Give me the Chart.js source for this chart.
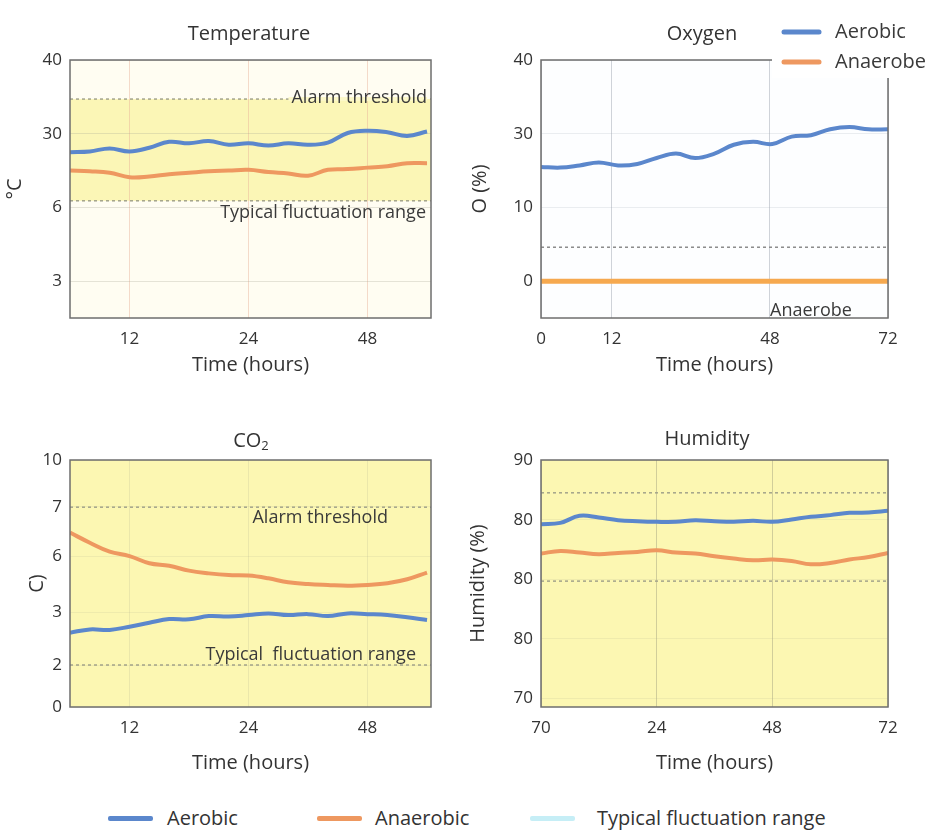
<!DOCTYPE html>
<html>
<head>
<meta charset="utf-8">
<script src="https://cdn.jsdelivr.net/npm/chart.js@4.4.0/dist/chart.umd.min.js"></script>
<style>
  body { margin: 0; background: #fff; font-family: 'Open Sans', sans-serif; color: #333; }
  #wrap { position: relative; width: 935px; height: 837px; overflow: hidden; }
  canvas { position: absolute; }
  .title { position: absolute; transform: translate(-50%, -50%); font-size: 20px; white-space: nowrap; }
  .title sub { font-size: 13px; vertical-align: -3px; }
  #legend { position: absolute; left: 0; top: 805px; width: 935px; height: 26px; font-size: 20px; }
  .item { position: absolute; top: 0; line-height: 26px; }
  .swatch { position: absolute; top: 11px; height: 5px; border-radius: 2px; }
</style>
</head>
<body>
<div id="wrap">
  <canvas id="temp" width="460" height="385" style="left:0;top:0"></canvas>
  <canvas id="oxy" width="470" height="385" style="left:465px;top:0"></canvas>
  <canvas id="co2" width="460" height="365" style="left:0;top:420px"></canvas>
  <canvas id="hum" width="470" height="365" style="left:465px;top:420px"></canvas>

  <div class="title" style="left:249px;top:32px">Temperature</div>
  <div class="title" style="left:702px;top:32px">Oxygen</div>
  <div class="title" style="left:251px;top:440px">CO<sub>2</sub></div>
  <div class="title" style="left:707px;top:437px">Humidity</div>

  <div id="legend">
    <span class="swatch" style="left:108px;width:45px;background:#5b87cc"></span>
    <span class="item" style="left:167px">Aerobic</span>
    <span class="swatch" style="left:317px;width:45px;background:#ee9860"></span>
    <span class="item" style="left:375px">Anaerobic</span>
    <span class="swatch" style="left:530px;width:45px;background:#c6eef6"></span>
    <span class="item" style="left:597px">Typical fluctuation range</span>
  </div>
</div>
<script>
// Temperature panel (y values in the axis' own position units)
const tempHours = [6, 8, 10, 12, 14, 16, 18, 20, 22, 24, 26, 28, 30, 32, 34, 36, 38, 40, 42];
const tempAerobic = [27.5, 27.6, 28.0, 27.6, 28.1, 28.9, 28.7, 29.0, 28.5, 28.7, 28.4, 28.7, 28.5, 28.8, 30.1, 30.4, 30.2, 29.7, 30.3];
const tempAnaerobe = [25.0, 24.9, 24.7, 24.1, 24.2, 24.5, 24.7, 24.9, 25.0, 25.1, 24.8, 24.6, 24.3, 25.1, 25.2, 25.4, 25.6, 26.0, 26.0];
const tempAlarm = 34.7;
const tempTypical = 20.9;
const tempYTicks = [10, 20, 30, 40];
const tempYLabels = ['3', '6', '30', '40'];
const tempXTicks = [12, 24, 36];
const tempXLabels = ['12', '24', '48'];

// Oxygen panel
const oxyHours = [0, 4, 8, 12, 16, 20, 24, 28, 32, 36, 40, 44, 48, 52, 56, 60, 64, 68, 72];
const oxyAerobic = [15.5, 15.4, 15.7, 16.1, 15.7, 15.9, 16.7, 17.3, 16.7, 17.3, 18.5, 18.9, 18.6, 19.6, 19.8, 20.6, 20.9, 20.6, 20.6];
const oxyAnaerobe = [0, 0, 0, 0, 0, 0, 0, 0, 0, 0, 0, 0, 0, 0, 0, 0, 0, 0, 0];
const oxyLimit = 4.6;
const oxyYTicks = [0, 10, 20, 30];
const oxyYLabels = ['0', '10', '30', '40'];
const oxyXTicks = [0, 14.7, 47.5, 72];
const oxyXLabels = ['0', '12', '48', '72'];

// CO2 panel
const co2Hours = [6, 8, 10, 12, 14, 16, 18, 20, 22, 24, 26, 28, 30, 32, 34, 36, 38, 40, 42];
const co2Aerobic = [3.01, 3.14, 3.12, 3.25, 3.41, 3.56, 3.55, 3.68, 3.66, 3.72, 3.79, 3.72, 3.76, 3.68, 3.79, 3.76, 3.72, 3.63, 3.52];
const co2Anaerobic = [7.06, 6.65, 6.29, 6.11, 5.82, 5.72, 5.52, 5.41, 5.34, 5.32, 5.21, 5.05, 4.98, 4.94, 4.91, 4.94, 5.01, 5.17, 5.44];
const co2Alarm = 8.09;
const co2Typical = 1.7;
const co2YTicks = [0, 1.7, 3.82, 6.09, 8.1, 10];
const co2YLabels = ['0', '2', '3', '6', '7', '10'];

// Humidity panel
const humHours = [0, 4, 8, 12, 16, 20, 24, 28, 32, 36, 40, 44, 48, 52, 56, 60, 64, 68, 72];
const humAerobic = [84.62, 84.73, 85.32, 85.18, 84.96, 84.87, 84.82, 84.82, 84.96, 84.87, 84.82, 84.9, 84.82, 85.02, 85.24, 85.38, 85.57, 85.6, 85.74];
const humAnaerobic = [82.16, 82.38, 82.24, 82.1, 82.21, 82.29, 82.44, 82.24, 82.16, 81.93, 81.74, 81.6, 81.66, 81.54, 81.26, 81.37, 81.66, 81.87, 82.21];
const humAlarm = 87.25;
const humTypical = 79.85;
const humYTicks = [70, 75, 80, 85, 90];
const humYLabels = ['70', '80', '80', '80', '90'];
const humXTicks = [0, 24, 48, 72];
const humXLabels = ['70', '24', '48', '72'];

const BLUE = '#5b87cc';
const ORANGE = '#ee9860';
const TEXT = '#333';

Chart.defaults.font.family = "'Open Sans', sans-serif";
Chart.defaults.color = TEXT;

function series(hours, values, color, width) {
    return {
        data: hours.map((h, i) => ({ x: h, y: values[i] })),
        borderColor: color,
        borderWidth: width || 4,
        pointRadius: 0,
        tension: 0.4,
        fill: false
    };
}

function dashed(xMin, xMax, value, color) {
    return {
        data: [{ x: xMin, y: value }, { x: xMax, y: value }],
        borderColor: color,
        borderWidth: 1.5,
        borderDash: [3, 3],
        pointRadius: 0,
        tension: 0,
        fill: false
    };
}

// backgrounds, frame, notes and the inline legend
function decor(cfg) {
    return {
        id: 'decor',
        beforeDraw(chart) {
            const { ctx, chartArea: a } = chart;
            const y = chart.scales.y;
            ctx.save();
            ctx.fillStyle = cfg.bg;
            ctx.fillRect(a.left, a.top, a.width, a.height);
            if (cfg.band) {
                const y1 = y.getPixelForValue(cfg.band[1]);
                const y0 = y.getPixelForValue(cfg.band[0]);
                ctx.fillStyle = cfg.bandColor;
                ctx.fillRect(a.left, y1, a.width, y0 - y1);
            }
            ctx.restore();
        },
        afterDraw(chart) {
            const { ctx, chartArea: a } = chart;
            const y = chart.scales.y;
            ctx.save();
            ctx.strokeStyle = '#6e6e6e';
            ctx.lineWidth = 1.5;
            ctx.strokeRect(a.left, a.top, a.width, a.height);

            ctx.font = "18px 'Open Sans', sans-serif";
            ctx.textBaseline = 'alphabetic';
            (cfg.notes || []).forEach(n => {
                const py = y.getPixelForValue(n.value) + n.dy;
                const px = a.right - n.right;
                const w = ctx.measureText(n.text).width;
                const left = n.align === 'left' ? px : px - w;
                if (n.mask) {
                    ctx.fillStyle = n.mask;
                    ctx.fillRect(left - 3, y.getPixelForValue(n.value) - 2, w + 3, 4);
                }
                ctx.fillStyle = '#3a3a3a';
                ctx.textAlign = 'left';
                ctx.fillText(n.text, left, py);
            });

            if (cfg.legend) {
                ctx.fillStyle = '#fff';
                ctx.fillRect(a.right - 116, 0, chart.width - a.right + 116, a.top + 18);
                ctx.font = "20px 'Open Sans', sans-serif";
                ctx.textBaseline = 'middle';
                cfg.legend.forEach(item => {
                    ctx.strokeStyle = item.color;
                    ctx.lineWidth = 5;
                    ctx.lineCap = 'round';
                    ctx.beginPath();
                    ctx.moveTo(a.right - 104, item.y);
                    ctx.lineTo(a.right - 69, item.y);
                    ctx.stroke();
                    ctx.fillStyle = '#3a3a3a';
                    ctx.fillText(item.text, a.right - 53, item.y);
                });
            }
            ctx.restore();
        }
    };
}

function makePanel(id, cfg) {
    const tickFont = { size: 17 };
    const titleFont = { size: 20 };
    return new Chart(document.getElementById(id), {
        type: 'line',
        data: { datasets: cfg.datasets },
        options: {
            responsive: false,
            animation: false,
            layout: { padding: { top: cfg.top, right: cfg.right, left: 0, bottom: 0 } },
            plugins: { legend: { display: false }, tooltip: { enabled: false } },
            scales: {
                x: {
                    type: 'linear',
                    min: cfg.xMin,
                    max: cfg.xMax,
                    afterBuildTicks: s => { s.ticks = cfg.xTicks.map(v => ({ value: v })); },
                    afterFit: s => { s.height = cfg.xAxisH; },
                    ticks: {
                        autoSkip: false, maxRotation: 0, padding: 11, color: TEXT, font: tickFont,
                        callback: (v, i) => cfg.xLabels[i]
                    },
                    grid: { color: cfg.xGrid, drawTicks: false },
                    border: { display: false },
                    title: { display: true, text: 'Time (hours)', color: TEXT, font: titleFont, padding: { top: 0, bottom: cfg.xTitlePad } }
                },
                y: {
                    type: 'linear',
                    min: cfg.yMin,
                    max: cfg.yMax,
                    afterBuildTicks: s => { s.ticks = cfg.yTicks.map(v => ({ value: v })); },
                    afterFit: s => { s.width = cfg.yAxisW; },
                    ticks: {
                        padding: 8, color: TEXT, font: tickFont,
                        callback: (v, i) => cfg.yLabels[i]
                    },
                    grid: { color: cfg.yGrid, drawTicks: false },
                    border: { display: false },
                    title: { display: true, text: cfg.yTitle, color: TEXT, font: titleFont, padding: { top: cfg.yTitlePad, bottom: 0 } }
                }
            }
        },
        plugins: [decor(cfg)]
    });
}

makePanel('temp', {
    datasets: [
        dashed(6, 42.4, tempAlarm, '#a3a38a'),
        dashed(6, 42.4, tempTypical, '#a3a38a'),
        series(tempHours, tempAerobic, BLUE),
        series(tempHours, tempAnaerobe, ORANGE)
    ],
    top: 60, right: 29, yAxisW: 70, xAxisH: 67, xTitlePad: 8, yTitlePad: 3,
    xMin: 6, xMax: 42.4, xTicks: tempXTicks, xLabels: tempXLabels,
    yMin: 5, yMax: 40, yTicks: tempYTicks, yLabels: tempYLabels,
    yTitle: '°C',
    xGrid: 'rgba(230,175,150,0.45)', yGrid: 'rgba(170,170,150,0.3)',
    bg: '#fffdf2', band: [tempTypical, tempAlarm], bandColor: '#fbf6b6',
    notes: [
        { text: 'Alarm threshold', value: tempAlarm, dy: 4, right: 4, mask: '#fcf8c8' },
        { text: 'Typical fluctuation range', value: tempTypical, dy: 17, right: 5 }
    ]
});

makePanel('oxy', {
    datasets: [
        dashed(0, 72, oxyLimit, '#8c8c8c'),
        series(oxyHours, oxyAnaerobe, '#f6a94f', 5),
        series(oxyHours, oxyAerobic, BLUE)
    ],
    top: 60, right: 47, yAxisW: 76, xAxisH: 67, xTitlePad: 8, yTitlePad: 3,
    xMin: 0, xMax: 72, xTicks: oxyXTicks, xLabels: oxyXLabels,
    yMin: -5, yMax: 30, yTicks: oxyYTicks, yLabels: oxyYLabels,
    yTitle: 'O (%)',
    xGrid: 'rgba(150,160,170,0.45)', yGrid: 'rgba(160,170,180,0.2)',
    bg: '#fdfeff',
    notes: [
        { text: 'Anaerobe', value: -5, dy: -2, right: 118, align: 'left' }
    ],
    legend: [
        { text: 'Aerobic', color: BLUE, y: 32 },
        { text: 'Anaerobe', color: ORANGE, y: 62 }
    ]
});

makePanel('co2', {
    datasets: [
        dashed(6, 42.4, co2Alarm, '#a3a38a'),
        dashed(6, 42.4, co2Typical, '#a3a38a'),
        series(co2Hours, co2Anaerobic, ORANGE),
        series(co2Hours, co2Aerobic, BLUE)
    ],
    top: 40, right: 29, yAxisW: 70, xAxisH: 78, xTitlePad: 10, yTitlePad: 25,
    xMin: 6, xMax: 42.4, xTicks: tempXTicks, xLabels: tempXLabels,
    yMin: 0, yMax: 10, yTicks: co2YTicks, yLabels: co2YLabels,
    yTitle: 'C)',
    xGrid: 'rgba(170,170,140,0.2)', yGrid: 'rgba(170,170,140,0.15)',
    bg: '#fcf7b2',
    notes: [
        { text: 'Alarm threshold', value: co2Alarm, dy: 16, right: 43 },
        { text: 'Typical  fluctuation range', value: co2Typical, dy: -5, right: 15 }
    ]
});

makePanel('hum', {
    datasets: [
        dashed(0, 72, humAlarm, '#a3a38a'),
        dashed(0, 72, humTypical, '#a3a38a'),
        series(humHours, humAnaerobic, ORANGE),
        series(humHours, humAerobic, BLUE)
    ],
    top: 40, right: 47, yAxisW: 76, xAxisH: 78, xTitlePad: 10, yTitlePad: 1,
    xMin: 0, xMax: 72, xTicks: humXTicks, xLabels: humXLabels,
    yMin: 69.3, yMax: 90, yTicks: humYTicks, yLabels: humYLabels,
    yTitle: 'Humidity (%)',
    xGrid: 'rgba(130,130,110,0.35)', yGrid: 'rgba(170,170,140,0.15)',
    bg: '#fcf7b2'
});
</script>
</body>
</html>
